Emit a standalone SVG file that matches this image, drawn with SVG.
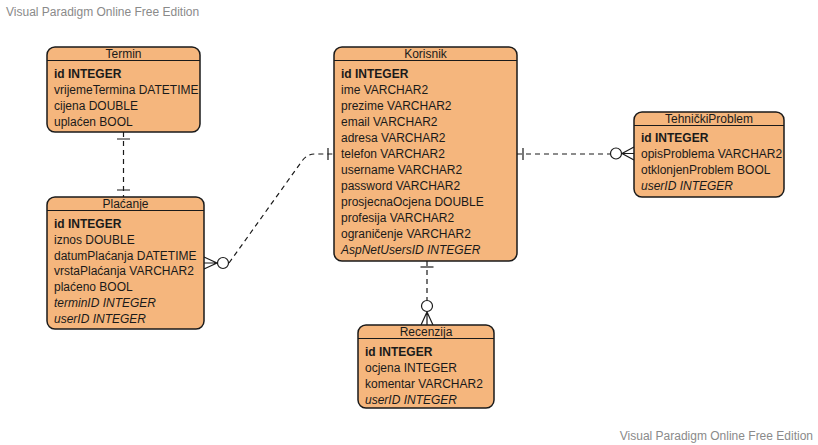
<svg xmlns="http://www.w3.org/2000/svg" width="818" height="445" viewBox="0 0 818 445">
<style>
.box{fill:#F5B67D;stroke:#1a1a1a;stroke-width:1.5}
.sep{stroke:#1a1a1a;stroke-width:1.2}
text{font-family:"Liberation Sans",Arial,sans-serif;font-size:12px;fill:#1a1a1a}
.t{text-anchor:middle}
.b{font-weight:bold}
.i{font-style:italic}
.wm{fill:#8a8a8a;font-size:12px}
.c{fill:none;stroke:#1a1a1a;stroke-width:1.2;stroke-dasharray:5 4}
.m{fill:none;stroke:#1a1a1a;stroke-width:1.2}
.o{fill:#fff;stroke:#1a1a1a;stroke-width:1.2}
</style>
<rect width="818" height="445" fill="#fff"/>
<text class="wm" x="6" y="16">Visual Paradigm Online Free Edition</text>
<text class="wm" x="813" y="440" text-anchor="end">Visual Paradigm Online Free Edition</text>

<g id="connectors">
  <!-- Termin - Placanje -->
  <path class="c" d="M123.5 132 L123.5 197"/>
  <path class="m" d="M117 139 L130 139 M117 190 L130 190"/>
  <!-- Placanje - Korisnik -->
  <path class="c" d="M229 263 L302 161 Q307 154 315 154 L334 154"/>
  <path class="m" d="M328 148 L328 160"/>
  <path class="m" d="M204 257 L217 263 L204 269 M204 263 L217 263"/>
  <circle class="o" cx="223" cy="263" r="5.5"/>
  <!-- Korisnik - TehnickiProblem -->
  <path class="c" d="M517 154 L610 154"/>
  <path class="m" d="M523 148 L523 160"/>
  <path class="m" d="M634 147 L622 153.5 L634 160 M622 153.5 L634 153.5"/>
  <circle class="o" cx="616" cy="153.5" r="5.5"/>
  <!-- Korisnik - Recenzija -->
  <path class="c" d="M427 261 L427 300"/>
  <path class="m" d="M420.5 267 L433.5 267"/>
  <path class="m" d="M421 325 L427 312 L433 325 M427 312 L427 325"/>
  <circle class="o" cx="427" cy="306" r="5.5"/>
</g>

<g id="termin">
  <rect class="box" x="47" y="47" width="153" height="85" rx="8"/>
  <line class="sep" x1="47" y1="60.5" x2="200" y2="60.5"/>
  <text class="t" x="123.5" y="57.5">Termin</text>
  <text class="b" x="54" y="78">id INTEGER</text>
  <text x="54" y="94">vrijemeTermina DATETIME</text>
  <text x="54" y="110">cijena DOUBLE</text>
  <text x="54" y="126">uplaćen BOOL</text>
</g>

<g id="placanje">
  <rect class="box" x="47" y="197" width="157" height="132" rx="8"/>
  <line class="sep" x1="47" y1="210.5" x2="204" y2="210.5"/>
  <text class="t" x="125.5" y="207.5">Plaćanje</text>
  <text class="b" x="54" y="228">id INTEGER</text>
  <text x="54" y="244">iznos DOUBLE</text>
  <text x="54" y="260">datumPlaćanja DATETIME</text>
  <text x="54" y="275">vrstaPlaćanja VARCHAR2</text>
  <text x="54" y="291">plaćeno BOOL</text>
  <text class="i" x="54" y="307">terminID INTEGER</text>
  <text class="i" x="54" y="323">userID INTEGER</text>
</g>

<g id="korisnik">
  <rect class="box" x="334" y="47" width="183" height="214" rx="8"/>
  <line class="sep" x1="334" y1="60.5" x2="517" y2="60.5"/>
  <text class="t" x="425.5" y="57.5">Korisnik</text>
  <text class="b" x="341" y="78">id INTEGER</text>
  <text x="341" y="94">ime VARCHAR2</text>
  <text x="341" y="110">prezime VARCHAR2</text>
  <text x="341" y="126">email VARCHAR2</text>
  <text x="341" y="142">adresa VARCHAR2</text>
  <text x="341" y="158">telefon VARCHAR2</text>
  <text x="341" y="174">username VARCHAR2</text>
  <text x="341" y="190">password VARCHAR2</text>
  <text x="341" y="206">prosjecnaOcjena DOUBLE</text>
  <text x="341" y="222">profesija VARCHAR2</text>
  <text x="341" y="238">ograničenje VARCHAR2</text>
  <text class="i" x="341" y="254">AspNetUsersID INTEGER</text>
</g>

<g id="tehnickiproblem">
  <rect class="box" x="634" y="112" width="150" height="85" rx="8"/>
  <line class="sep" x1="634" y1="125.5" x2="784" y2="125.5"/>
  <text class="t" x="709" y="122.5">TehničkiProblem</text>
  <text class="b" x="641" y="142">id INTEGER</text>
  <text x="641" y="158">opisProblema VARCHAR2</text>
  <text x="641" y="174">otklonjenProblem BOOL</text>
  <text class="i" x="641" y="190">userID INTEGER</text>
</g>

<g id="recenzija">
  <rect class="box" x="358" y="325" width="136" height="83" rx="8"/>
  <line class="sep" x1="358" y1="338.5" x2="494" y2="338.5"/>
  <text class="t" x="426" y="335.5">Recenzija</text>
  <text class="b" x="365" y="356">id INTEGER</text>
  <text x="365" y="372">ocjena INTEGER</text>
  <text x="365" y="388">komentar VARCHAR2</text>
  <text class="i" x="365" y="404">userID INTEGER</text>
</g>
</svg>
